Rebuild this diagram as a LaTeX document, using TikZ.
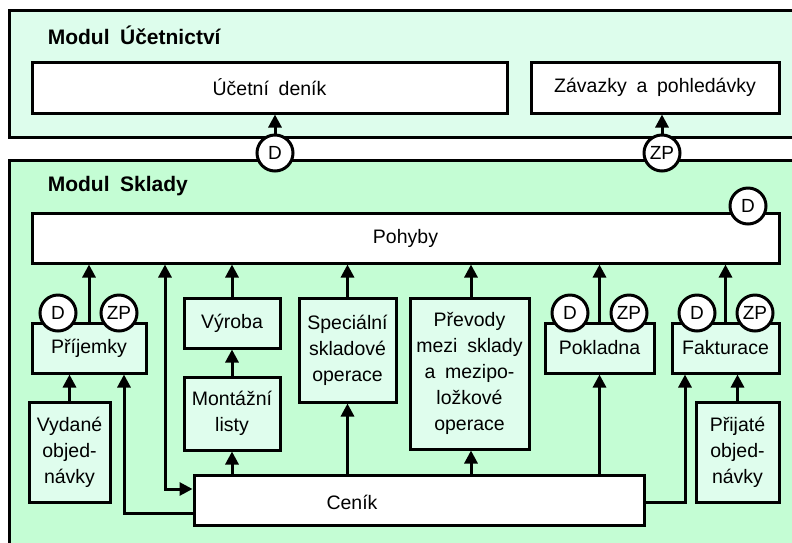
\documentclass[tikz,border=0pt]{standalone}
\usepackage{fontspec}
\setmainfont{Liberation Sans}[WordSpace=1.8]
\usetikzlibrary{arrows.meta}
\definecolor{modtop}{RGB}{221,253,236}
\definecolor{modlow}{RGB}{196,253,212}
\definecolor{boxfill}{RGB}{223,253,237}
\begin{document}
\begin{tikzpicture}[x=1pt,y=-1pt,line width=3pt,
  font=\fontsize{19.5}{26}\selectfont,
  box/.style={draw,fill=boxfill,inner sep=2pt,align=center},
  wbox/.style={draw,fill=white,inner sep=2pt},
  tag/.style={draw,circle,fill=white,inner sep=0pt,minimum size=36pt,font=\fontsize{19}{20}\selectfont},
  arr/.style={-{Triangle[width=13pt,length=13pt]}},
  arrb/.style={{Triangle[width=13pt,length=13pt]}-{Triangle[width=13pt,length=13pt]}}]
  \useasboundingbox (0,0) rectangle (792,542);
  \clip (0,0) rectangle (792,542);
  % the two modules
  \draw[fill=modtop] (9,10) rectangle (810,137);
  \draw[fill=modlow] (9,160) rectangle (810,570);
  \node[anchor=west,font=\fontsize{21}{24}\selectfont\bfseries] (tuc) at (43,35) {Modul Účetnictví};
  \node[anchor=west,font=\fontsize{21}{24}\selectfont\bfseries] (tsk) at (43,186) {Modul Sklady};
  % boxes
  \node[wbox,minimum width=475pt,minimum height=51pt] (denik) at (269.5,87.5) {Účetní deník};
  \node[wbox,minimum width=248pt,minimum height=51pt] (zavazky) at (655,87.5) {Závazky a pohledávky};
  \node[wbox,minimum width=747pt,minimum height=50pt] (pohyby) at (405.5,238) {Pohyby};
  \node[box,minimum width=114pt,minimum height=50pt] (prijemky) at (89,348) {Příjemky};
  \node[box,minimum width=96pt,minimum height=50pt] (vyroba) at (232,323) {Výroba};
  \node[box,minimum width=96pt,minimum height=73pt] (montaz) at (232,413.5) {Montážní\\listy};
  \node[box,minimum width=97pt,minimum height=104pt] (special) at (347.5,350) {Speciální\\skladové\\operace};
  \node[box,minimum width=119pt,minimum height=151pt] (prevody) at (469.5,373.5) {Převody\\mezi sklady\\a mezipo-\\ložkové\\operace};
  \node[box,minimum width=109pt,minimum height=50pt] (pokladna) at (599.5,348) {Pokladna};
  \node[box,minimum width=107pt,minimum height=50pt] (faktura) at (725.5,348) {Fakturace};
  \node[box,minimum width=81pt,minimum height=100pt] (vydane) at (69.5,452) {Vydané\\objed-\\návky};
  \node[box,minimum width=83pt,minimum height=100pt] (prijate) at (737.5,452) {Přijaté\\objed-\\návky};
  \node[wbox,minimum width=450pt,minimum height=50pt,label={[xshift=-67pt,yshift=-2pt]center:Ceník}] (cenik) at (419,500) {};
  % D and ZP tags
  \node[tag] (du) at (275,153) {D};
  \node[tag] (zpu) at (662,153) {ZP};
  \node[tag] (dpo) at (748,206) {D};
  \node[tag] (dpr) at (58,313) {D};
  \node[tag] (zppr) at (119,313) {ZP};
  \node[tag] (dpk) at (570,313) {D};
  \node[tag] (zppk) at (629,313) {ZP};
  \node[tag] (dfa) at (697,313) {D};
  \node[tag] (zpfa) at (755,313) {ZP};
  \coordinate (k1) at (165,489);
  % connectors
  \draw[arr] (du.north) -- (du.north |- denik.south);
  \draw[arr] (zpu.north) -- (zpu.north |- zavazky.south);
  \draw[arr] (prijemky.north) -- (prijemky.north |- pohyby.south);
  \draw[arrb] (k1 |- pohyby.south) -- (k1) -- (k1 -| cenik.west);
  \draw[arr] (vyroba.north) -- (vyroba.north |- pohyby.south);
  \draw[arr] (montaz.north) -- (vyroba.south);
  \draw[arr] (montaz.south |- cenik.north) -- (montaz.south);
  \draw[arr] (special.north) -- (special.north |- pohyby.south);
  \draw[arr] (special.south |- cenik.north) -- (special.south);
  \draw[arr] ([xshift=1.5pt]prevody.north) -- ([xshift=1.5pt]prevody.north |- pohyby.south);
  \draw[arr] ([xshift=1.5pt]prevody.south |- cenik.north) -- ([xshift=1.5pt]prevody.south);
  \draw[arr] (pokladna.north) -- (pokladna.north |- pohyby.south);
  \draw[arr] (pokladna.south |- cenik.north) -- (pokladna.south);
  \draw[arr] (faktura.north) -- (faktura.north |- pohyby.south);
  \draw[arr] ([yshift=-2pt]cenik.east) -| ([xshift=-40.5pt]faktura.south);
  \draw[arr] (prijate.north) -- (prijate.north |- faktura.south);
  \draw[arr] (vydane.north) -- (vydane.north |- prijemky.south);
  \draw[arr] ([yshift=-13pt]cenik.west) -| ([xshift=35pt]prijemky.south);
\end{tikzpicture}
\end{document}
